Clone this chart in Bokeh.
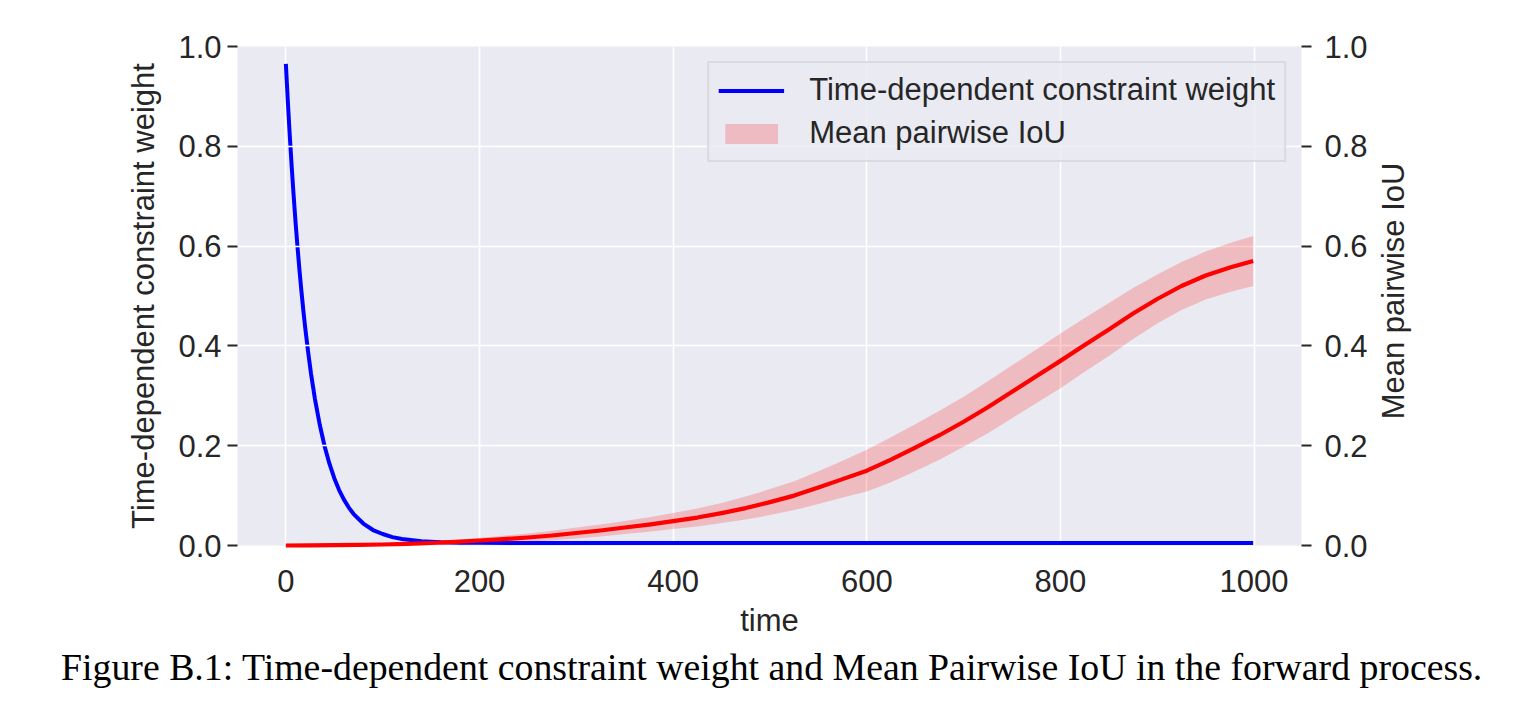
import math
from bokeh.plotting import figure
from bokeh.models import (Range1d, LinearAxis, Legend, LegendItem, Div,
                          FixedTicker, PrintfTickFormatter, ColumnDataSource)
from bokeh.core.properties import value
from bokeh.layouts import column, row
from bokeh.embed import file_html
from bokeh.resources import INLINE

# ---- data ----
t_weight = [0, 2, 4, 6, 8, 10, 12, 14, 16, 18, 20, 23, 26, 30, 35, 40, 45,
            50, 55, 60, 65, 70, 80, 90, 100, 110, 120, 140, 160, 180, 200,
            250, 300, 400, 500, 600, 700, 800, 900, 999]
weight = [0.965, 0.891, 0.823, 0.760, 0.702, 0.648, 0.599, 0.553, 0.511,
          0.472, 0.436, 0.388, 0.344, 0.294, 0.242, 0.199, 0.164, 0.135,
          0.111, 0.092, 0.076, 0.063, 0.044, 0.031, 0.023, 0.0168, 0.013,
          0.0085, 0.0066, 0.0057, 0.0053, 0.005, 0.005, 0.005, 0.005, 0.005,
          0.005, 0.005, 0.005, 0.005]

t_iou = [0, 25, 50, 75, 100, 125, 150, 175, 200, 225, 250, 275, 300, 325,
         350, 375, 400, 425, 450, 475, 500, 525, 550, 575, 600, 625, 650,
         675, 700, 725, 750, 775, 800, 825, 850, 875, 900, 925, 950, 975, 999]
iou_mean = [0.0, 0.0002, 0.0006, 0.0012, 0.002, 0.0033, 0.005, 0.0072,
            0.010, 0.0128, 0.016, 0.020, 0.025, 0.030, 0.036, 0.042, 0.049,
            0.056, 0.065, 0.075, 0.087, 0.100, 0.116, 0.133, 0.150, 0.172,
            0.196, 0.221, 0.248, 0.277, 0.308, 0.339, 0.370, 0.402, 0.433,
            0.465, 0.494, 0.520, 0.541, 0.557, 0.570]
iou_spread = [0.0, 0.0001, 0.0003, 0.0006, 0.001, 0.002, 0.003, 0.004,
              0.0055, 0.0068, 0.008, 0.0095, 0.011, 0.012, 0.013, 0.0145,
              0.016, 0.018, 0.020, 0.023, 0.026, 0.029, 0.033, 0.037, 0.042,
              0.045, 0.047, 0.049, 0.050, 0.052, 0.053, 0.054, 0.055, 0.054,
              0.053, 0.051, 0.049, 0.048, 0.048, 0.049, 0.050]

x_ticks = [0, 200, 400, 600, 800, 1000]
y_ticks = [0.0, 0.2, 0.4, 0.6, 0.8, 1.0]

label_weight = "Time-dependent constraint weight"
label_iou = "Mean pairwise IoU"
x_label = "time"
caption = ("Figure B.1: Time-dependent constraint weight and Mean Pairwise IoU "
           "in the forward process.")

FONT = "Liberation Sans"
TXT = "#262626"
FS = "31px"

iou_src = ColumnDataSource(dict(
    t=t_iou, mean=iou_mean,
    lower=[m - s for m, s in zip(iou_mean, iou_spread)],
    upper=[m + s for m, s in zip(iou_mean, iou_spread)],
))

H = 645
X0, X1 = -49.95, 1048.95
p = figure(width=1375, height=H,
           x_range=Range1d(X0, X1), y_range=Range1d(0, 1),
           output_backend="svg", toolbar_location=None,
           min_border_left=237, min_border_right=74,
           min_border_top=46, min_border_bottom=100,
           background_fill_color="#EAEAF2", border_fill_color="white",
           outline_line_color=None)

p.extra_y_ranges = {"iou": Range1d(0, 1)}

# grids
p.xgrid.grid_line_color = "white"
p.xgrid.grid_line_width = 1.6
p.xgrid.level = "image"
p.xgrid.ticker = FixedTicker(ticks=x_ticks)
p.ygrid.grid_line_color = "white"
p.ygrid.grid_line_width = 1.6
p.ygrid.level = "glyph"
p.ygrid.ticker = FixedTicker(ticks=y_ticks)

# axes
ax2 = LinearAxis(y_range_name="iou")
p.add_layout(ax2, "right")

p.xaxis.ticker = FixedTicker(ticks=x_ticks)
p.xaxis.axis_label = x_label
p.xaxis.major_tick_out = 0
p.xaxis.major_tick_in = 0
p.xaxis.minor_tick_out = 0
p.xaxis.minor_tick_in = 0
p.xaxis.axis_line_color = None
p.xaxis.major_label_standoff = 24
p.xaxis.axis_label_standoff = 8

p.yaxis[0].axis_label = label_weight
for ax in [p.yaxis[0], ax2]:
    ax.ticker = FixedTicker(ticks=y_ticks)
    ax.formatter = PrintfTickFormatter(format="%.1f")
    ax.major_tick_out = 10
    ax.major_tick_in = 0
    ax.minor_tick_out = 0
    ax.minor_tick_in = 0
    ax.axis_line_color = None
    ax.major_tick_line_color = TXT
    ax.major_tick_line_width = 2
p.yaxis[0].major_label_standoff = 6
p.yaxis[0].axis_label_standoff = 14
ax2.major_label_standoff = 13

for ax in [p.xaxis[0], p.yaxis[0], ax2]:
    ax.major_label_text_font = FONT
    ax.major_label_text_font_size = FS
    ax.major_label_text_color = TXT
    ax.axis_label_text_font = FONT
    ax.axis_label_text_font_size = FS
    ax.axis_label_text_color = TXT
    ax.axis_label_text_font_style = "normal"

# glyphs
blue = p.line(t_weight, weight, line_color="#0000FF", line_width=4,
              level="underlay", line_join="round")
band = p.varea(x="t", y1="lower", y2="upper", source=iou_src,
               y_range_name="iou", fill_color="red", fill_alpha=0.2,
               level="guide")
red = p.line(x="t", y="mean", source=iou_src, y_range_name="iou",
             line_color="#FF0000", line_width=4.2, level="guide",
             line_join="round")

legend = Legend(items=[LegendItem(label=label_weight, renderers=[blue]),
                       LegendItem(label=label_iou, renderers=[band])],
                location="top_right", level="underlay")
legend.background_fill_color = "#EAEAF2"
legend.background_fill_alpha = 0.8
legend.border_line_color = "#CCCCCC"
legend.border_line_width = 2
legend.label_text_font = FONT
legend.label_text_font_size = FS
legend.label_text_color = TXT
legend.glyph_width = 66
legend.glyph_height = 25
legend.label_height = 30
legend.label_standoff = 25
legend.padding = 9
legend.spacing = 7
legend.margin = 15
p.add_layout(legend)

# right-hand axis title (reads bottom to top), in a thin strip beside the plot
W2 = 65
p2 = figure(width=W2, height=H, x_range=Range1d(0, W2), y_range=Range1d(0, H),
            output_backend="svg", toolbar_location=None,
            x_axis_location=None, y_axis_location=None,
            min_border_left=0, min_border_right=0, min_border_top=0,
            min_border_bottom=0, outline_line_color=None,
            background_fill_color="white", border_fill_color="white")
p2.grid.visible = False
label_center_from_bottom = 329
p2.text(x=[18], y=[label_center_from_bottom], text=[label_iou],
        angle=math.pi / 2, text_align="center", text_baseline="middle",
        text_font=value(FONT), text_font_size=FS, text_color=TXT)

cap = Div(text=caption, width=1500, height=55,
          styles={"font-family": "Liberation Serif", "font-size": "37.8px",
                  "color": "black", "padding-left": "56px",
                  "white-space": "nowrap", "line-height": "0.95"})

layout = column(row(p, p2, spacing=0), cap, spacing=0)
open("out.html", "w").write(file_html(layout, INLINE))
